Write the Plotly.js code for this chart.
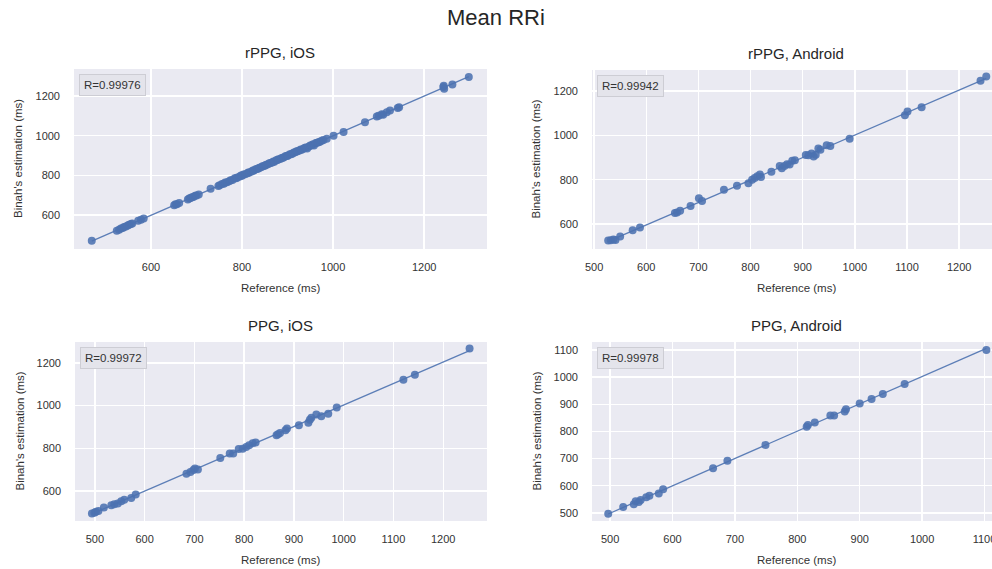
<!DOCTYPE html>
<html><head><meta charset="utf-8">
<script src="https://cdn.plot.ly/plotly-3.0.1.min.js"></script>
<style>html,body{margin:0;padding:0;background:#fff}#chart{width:992px;height:569px}</style>
</head><body><div id="chart"></div>
<script>
const figureTitle = "Mean RRi";
const panelNames = ["rPPG, iOS", "rPPG, Android", "PPG, iOS", "PPG, Android"];
const rValues = ["0.99976", "0.99942", "0.99972", "0.99978"];
const xLabel = "Reference (ms)";
const yLabel = "Binah's estimation (ms)";

const rppgIosRef = [470,525,530,534,538,541,545,549,552,556,559,572,578,584,651,654,657,662,681,684,687,690,693,697,700,705,731,
  748,751,756,760,763,767,772,775,779,784,787,790,795,798,800,803,807,812,814,816,821,824,826,830,833,836,838,842,845,848,
  851,853,857,860,863,866,869,871,875,878,880,884,887,890,892,896,899,901,905,908,911,914,917,920,922,926,929,931,935,938,
  941,943,947,950,953,956,958,962,965,968,971,975,979,986,
  1001,1023,1070,1096,1100,1107,1110,1118,1125,1142,1145,1242,1243,1244,1262,1298];
const rppgIosEst = [470,521,526,532,535,540,543,547,551,555,557,571,577,583,650,655,654,661,679,684,686,690,691,697,699,703,733,
  746,750,757,758,764,765,771,776,777,785,786,789,794,799,798,804,806,811,815,814,820,825,824,831,832,835,839,841,846,847,
  850,854,856,861,862,865,870,869,876,877,881,883,888,889,891,897,898,900,906,907,910,915,916,921,921,925,930,929,934,939,
  940,936,946,951,952,957,950,963,964,967,970,974,978,985,
  1000,1018,1068,1097,1100,1108,1106,1118,1127,1140,1143,1245,1252,1237,1258,1296];

const rppgAndRef = [527,532,537,541,550,574,588,655,659,665,685,701,707,749,774,796,803,808,813,818,820,840,856,860,865,870,875,880,885,906,911,917,921,925,930,934,946,953,990,1096,1101,1128,1241,1252];
const rppgAndEst = [525,527,530,528,543,572,584,650,652,660,681,716,704,754,772,784,800,808,815,823,812,836,862,851,862,870,868,885,888,911,910,918,905,913,941,935,955,952,985,1091,1108,1127,1247,1266];

const ppgIosRef = [494,499,502,507,518,533,539,546,553,559,573,582,684,692,698,701,707,752,771,778,789,797,804,810,817,823,865,868,872,883,886,910,929,932,935,945,955,969,986,1120,1143,1253];
const ppgIosEst = [494,498,502,506,522,533,538,541,552,559,567,583,681,689,698,705,700,754,775,775,797,798,806,814,824,827,861,866,872,884,892,908,919,934,943,958,950,962,991,1121,1145,1268];

const ppgAndRef = [497,521,538,541,546,549,558,563,578,585,665,688,749,815,817,828,853,859,876,878,900,919,937,972,1103];
const ppgAndEst = [497,522,532,543,540,547,557,563,571,587,664,692,750,817,823,833,858,858,873,881,903,919,938,974,1100];

const seriesRef = [rppgIosRef, rppgAndRef, ppgIosRef, ppgAndRef];
const seriesEst = [rppgIosEst, rppgAndEst, ppgIosEst, ppgAndEst];

// layout geometry (pixels)
const W = 992, H = 569;
const boxes = [
  {l:74, r:487, t:69, b:249, xr:[431,1338], yr:[429,1336], xd:200, yd:200, cx:280},
  {l:592, r:992, t:70, b:249, xr:[496,1263], yr:[487,1295], xd:100, yd:200, cx:796},
  {l:75, r:487, t:342, b:521, xr:[460,1288], yr:[459,1298], xd:100, yd:200, cx:280},
  {l:592, r:992, t:342, b:521, xr:[471,1112], yr:[470,1129], xd:100, yd:100, cx:796}
];
const px = x => x / W, py = y => 1 - y / H;
const FONT = "Liberation Sans, Arial, sans-serif";
const BLUE = "#4C72B0";

function fit(x, y) {
  const n = x.length;
  let sx=0, sy=0, sxx=0, sxy=0;
  for (let i=0;i<n;i++){sx+=x[i];sy+=y[i];sxx+=x[i]*x[i];sxy+=x[i]*y[i];}
  const m = (n*sxy - sx*sy)/(n*sxx - sx*sx);
  const b = (sy - m*sx)/n;
  const x0 = Math.min(...x), x1 = Math.max(...x);
  return {x:[x0,x1], y:[m*x0+b, m*x1+b]};
}

const traces = [];
const layout = {
  width: W, height: H, autosize: false,
  margin: {l:0, r:0, t:0, b:0, pad:0},
  paper_bgcolor: "#ffffff",
  plot_bgcolor: "#EAEAF2",
  showlegend: false,
  font: {family: FONT, color: "#262626", size: 11},
  annotations: [
    {text: figureTitle, x: 0.5, y: py(18), xref:"paper", yref:"paper", showarrow:false,
     xanchor:"center", yanchor:"middle", font:{size:22, color:"#262626", family: FONT}}
  ]
};

boxes.forEach((bx, i) => {
  const n = i + 1;
  const xa = n === 1 ? "x" : "x" + n, ya = n === 1 ? "y" : "y" + n;
  const xk = n === 1 ? "xaxis" : "xaxis" + n, yk = n === 1 ? "yaxis" : "yaxis" + n;
  const f = fit(seriesRef[i], seriesEst[i]);
  traces.push({x: f.x, y: f.y, xaxis: xa, yaxis: ya, mode: "lines", type: "scatter",
    line: {color: BLUE, width: 1.3}, opacity: 0.9, hoverinfo: "skip"});
  traces.push({x: seriesRef[i], y: seriesEst[i], xaxis: xa, yaxis: ya, mode: "markers", type: "scatter",
    marker: {color: BLUE, size: 8, opacity: 0.88, line: {width: 0}}});
  const common = {showgrid: true, gridcolor: "#ffffff", gridwidth: 1.4, zeroline: false, showline: false,
    ticks: "", tickfont: {size: 11, color: "#333333", family: FONT}, tick0: 0, fixedrange: true,
    ticklabeloverflow: "allow"};
  layout[xk] = Object.assign({}, common, {domain: [px(bx.l), px(bx.r)], range: bx.xr, dtick: bx.xd,
    anchor: ya, ticklabelstandoff: 10});
  layout[yk] = Object.assign({}, common, {domain: [py(bx.b), py(bx.t)], range: bx.yr, dtick: bx.yd,
    anchor: xa, ticklabelstandoff: 13});
  layout.annotations.push({text: panelNames[i], x: px(bx.cx), y: py(bx.t - 17), xref: "paper", yref: "paper",
    showarrow: false, xanchor: "center", yanchor: "middle", font: {size: 15, color: "#262626", family: FONT}});
  layout.annotations.push({text: xLabel, x: px(bx.cx), y: py(bx.b + 39), xref: "paper", yref: "paper",
    showarrow: false, xanchor: "center", yanchor: "middle", font: {size: 11.5, color: "#333333", family: FONT}});
  layout.annotations.push({text: yLabel, x: px(bx.l - 56), y: py((bx.t + bx.b) / 2), xref: "paper", yref: "paper",
    showarrow: false, textangle: -90, xanchor: "center", yanchor: "middle", font: {size: 11.5, color: "#333333", family: FONT}});
  layout.annotations.push({text: "R=" + rValues[i], x: px(bx.l + 5), y: py(bx.t + 5), xref: "paper", yref: "paper",
    showarrow: false, xanchor: "left", yanchor: "top", font: {size: 11.5, color: "#333333", family: FONT},
    bgcolor: "#E4E4EB", bordercolor: "#CDCDD4", borderwidth: 1, borderpad: 4});
});

Plotly.newPlot("chart", traces, layout, {staticPlot: true, displayModeBar: false});
</script>
</body></html>
